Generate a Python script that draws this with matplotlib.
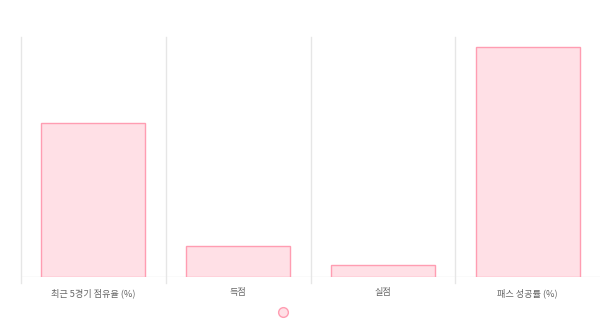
import matplotlib
matplotlib.use('Agg')
import matplotlib.pyplot as plt
from matplotlib.lines import Line2D

plt.rcParams['font.family'] = ['Noto Sans CJK KR', 'DejaVu Sans']

# 데이터
categories = ['최근 5경기 점유율 (%)', '득점', '실점', '패스 성공률 (%)']
values = [64, 13, 5, 96]

fill = '#FFE0E6'
border = '#FF9DB2'
grid = '#E6E6E6'

fig = plt.figure(figsize=(6, 3.26), dpi=100)
ax = fig.add_axes([21/600, 1-277/326, 579/600, 240/326])

x = range(len(categories))
ax.bar(x, values, width=0.72, color=fill, edgecolor=border, linewidth=1, zorder=2)

ax.set_xlim(-0.5, len(categories) - 0.5)
ax.set_ylim(0, 100)

# 세로 격자선 (카테고리 경계)
for i in range(len(categories)):
    ax.plot([i - 0.5, i - 0.5], [-0.025, 1], transform=ax.get_xaxis_transform(),
            color=grid, lw=1, clip_on=False, zorder=1)
ax.axhline(0, color=grid, lw=1, zorder=1)

for s in ax.spines.values():
    s.set_visible(False)
ax.set_yticks([])
ax.set_xticks(list(x))
ax.set_xticklabels(categories, fontsize=6.6, color='#666666')
ax.tick_params(axis='x', length=0, pad=8)

leg_handle = Line2D([], [], marker='o', linestyle='', markersize=7,
                    markerfacecolor=fill, markeredgecolor=border, markeredgewidth=1)
fig.legend(handles=[leg_handle], labels=[''], loc='center',
           bbox_to_anchor=(283/600, 13/326), frameon=False,
           handletextpad=0, handlelength=1, borderpad=0)

plt.savefig('out.png', dpi=100)
